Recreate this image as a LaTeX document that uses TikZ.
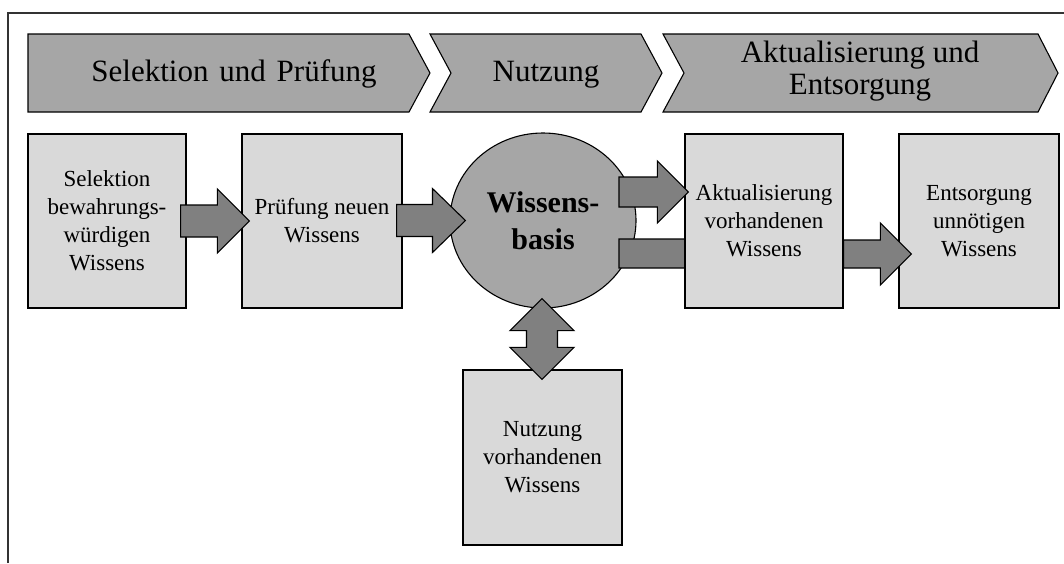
\documentclass[tikz,border=0pt]{standalone}
\usepackage{fontspec}
\setmainfont{Liberation Serif}
\usetikzlibrary{shapes.geometric,calc}
\definecolor{boxgray}{HTML}{D9D9D9}
\definecolor{midgray}{HTML}{A6A6A6}
\definecolor{arrowgray}{HTML}{808080}

% block arrow pointing right: #1 tail, #2 tip, #3 head length, #4 shaft half width, #5 head half width
\newcommand\rightblock[5]{%
  \draw[blockarrow] let \p1=#1, \p2=#2 in
    (\x1,\y2+#4) -- (\x2-#3,\y2+#4) -- (\x2-#3,\y2+#5) -- (\x2,\y2)
    -- (\x2-#3,\y2-#5) -- (\x2-#3,\y2-#4) -- (\x1,\y2-#4) -- cycle;}

% double block arrow, vertical: #1 upper tip, #2 lower tip, #3 head length, #4 head half width, #5 shaft half width
\newcommand\updownblock[5]{%
  \draw[blockarrow] let \p1=#1, \p2=#2 in
    (\x1,\y1) -- (\x1+#4,\y1-#3) -- (\x1+#5,\y1-#3) -- (\x1+#5,\y2+#3)
    -- (\x1+#4,\y2+#3) -- (\x1,\y2) -- (\x1-#4,\y2+#3) -- (\x1-#5,\y2+#3)
    -- (\x1-#5,\y1-#3) -- (\x1-#4,\y1-#3) -- cycle;}

\begin{document}
\begin{tikzpicture}[x=1pt,y=-1pt,
  phase/.style={draw=black,line width=1.1pt,fill=midgray,line join=miter},
  phasetext/.style={font=\fontsize{31}{32}\selectfont,align=center,inner sep=0pt},
  stepbox/.style={draw=black,line width=1.2pt,fill=boxgray,minimum width=158pt,
    minimum height=174pt,inner sep=0pt,align=center,font=\fontsize{23}{28}\selectfont},
  blockarrow/.style={draw=black,line width=1.1pt,fill=arrowgray,line join=miter},
  framestroke/.style={line width=1.2pt,black!80},
]
\useasboundingbox (0,0) rectangle (1064,563);

% outer frame (top and left edges)
\draw[framestroke] (8,563) -- (8,13) -- (1064,13);

% phase chevrons
\draw[phase] (28,34) -- (409,34) -- (430,73) -- (409,112) -- (28,112) -- cycle;
\draw[phase] (430,34) -- (641,34) -- (662,73) -- (641,112) -- (430,112) -- (451,73) -- cycle;
\draw[phase] (663,34) -- (1038,34) -- (1058,73) -- (1038,112) -- (663,112) -- (684,73) -- cycle;
\node[phasetext,anchor=base] (ph1) at (234,81) {Selektion\hspace{0.1em} und\hspace{0.1em} Prüfung};
\node[phasetext,anchor=base] (ph2) at (546,81) {Nutzung};
\node[phasetext] (ph3) at (860,71) {Aktualisierung und\\Entsorgung};

% knowledge base
\node[ellipse,draw=black,line width=1.1pt,fill=midgray,minimum width=186pt,minimum height=175pt,
  inner sep=0pt,align=center,font=\fontsize{30}{37}\selectfont\bfseries] (kb) at (543,220.5)
  {Wissens-\\basis};

% lower bar from the knowledge base, running under the update box
\rightblock{($(kb.center)+(76,33)$)}{($(kb.center)+(178,33)$)}{32pt}{14.5pt}{30pt}

% process steps
\node[stepbox] (box1) at (107,221) {Selektion\\bewahrungs-\\würdigen\\Wissens};
\node[stepbox,minimum width=160pt] (box2) at (322,221) {Prüfung neuen\\Wissens};
\node[stepbox] (box3) at (764,221) {Aktualisierung\\vorhandenen\\Wissens};
\node[stepbox,minimum width=160pt] (box4) at (979,221) {Entsorgung\\unnötigen\\Wissens};
\node[stepbox,minimum width=159pt,minimum height=175pt] (box5) at (542.5,457.5) {Nutzung\\vorhandenen\\Wissens};

% flow arrows
\rightblock{($(box1.east)+(-6,0)$)}{($(box2.west)+(8,0)$)}{32pt}{16pt}{32pt}
\rightblock{($(box2.east)+(-6,0)$)}{($(kb.west)+(16,0)$)}{33pt}{16pt}{32pt}
\rightblock{($(kb.center)+(76,-28.5)$)}{($(box3.west)+(4,-29)$)}{31pt}{15pt}{31pt}
\rightblock{($(box3.east)+(0,33)$)}{($(box4.west)+(13,33)$)}{31pt}{14pt}{31pt}
\updownblock{($(kb.south)+(-1,-10)$)}{($(box5.north)+(-0.5,10)$)}{32pt}{32pt}{15.5pt}
\end{tikzpicture}
\end{document}
